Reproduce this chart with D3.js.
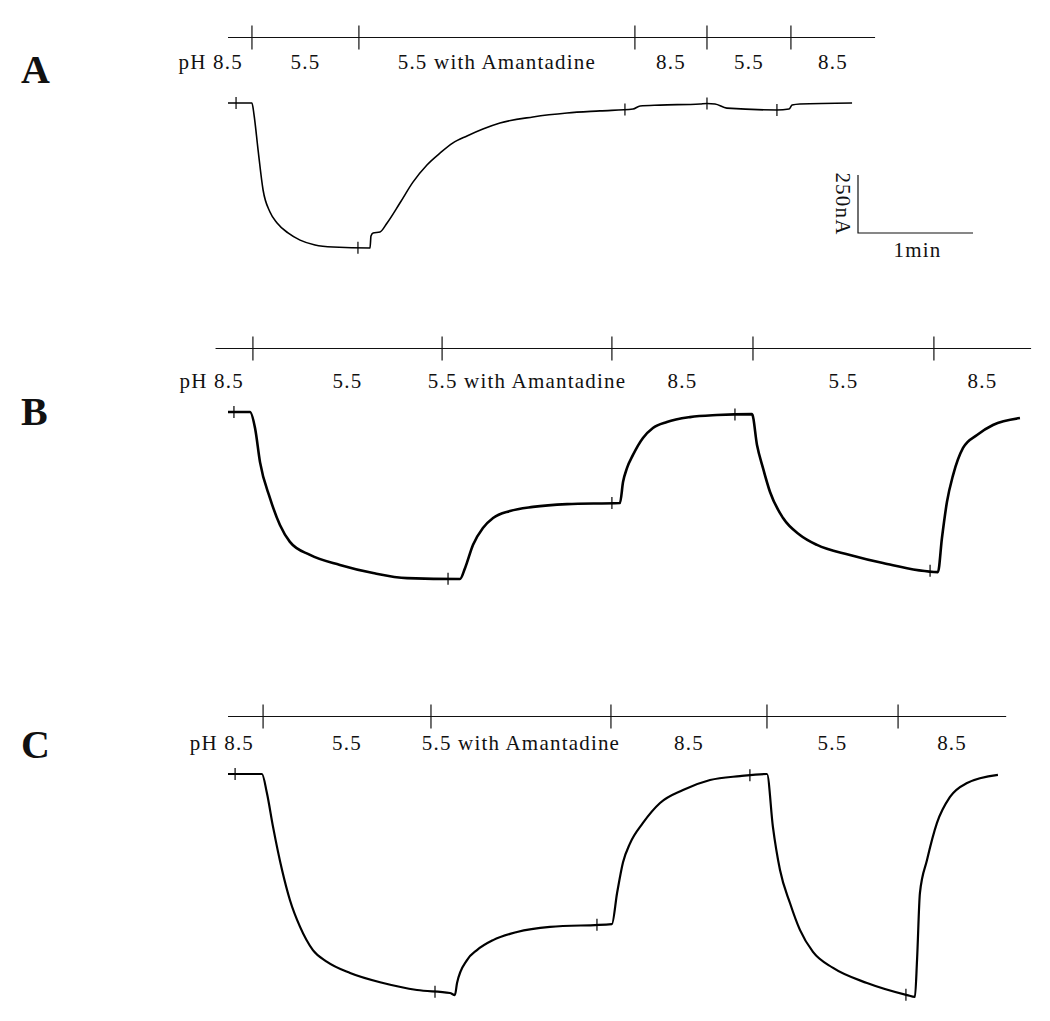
<!DOCTYPE html>
<html>
<head>
<meta charset="utf-8">
<script src="https://cdn.jsdelivr.net/npm/d3@7"></script>
<style>
	html, body { margin: 0; padding: 0; background: #fff; }
	svg { display: block; }
	.tl-text { font-family: "Liberation Serif", "Times New Roman", serif; font-size: 21px; letter-spacing: 1.2px; fill: #111; }
	.panel-letter { font-family: "Liberation Serif", "Times New Roman", serif; font-size: 40px; font-weight: bold; fill: #111; }
</style>
</head>
<body>
<svg id="chart" width="1050" height="1021"></svg>
<script>
// solution labels on the time bar (same for every panel)
var phLabels = ["pH 8.5", "5.5", "5.5 with Amantadine", "8.5", "5.5", "8.5"];

// solution switch times (s) and the extent of each time bar (s)
var switchA = [12.5, 68.3, 212.3, 249.9, 293.7];
var switchB = [13.0, 111.7, 200.3, 273.9, 368.3];
var switchC = [18.3, 105.9, 199.8, 281.2, 349.6];
var barA = [0, 337.6];
var barB = [-6.5, 419];
var barC = [0, 406];

// current traces, time (s) vs current (nA, relative to pH 8.5 baseline)
var timeA = [0, 12.5, 13.6, 15.7, 18.3, 21.9, 25.6, 31.3, 37.6, 45.4, 54.8, 74.1, 74.6, 75.7, 79.3, 83.0, 89.7, 96.5, 103.8, 110.6, 117.4, 124.7, 133.0, 141.9, 159.1, 176.9, 194.1, 211.3, 215.0, 225.4, 246.3, 249.9, 254.1, 260.3, 286.4, 292.7, 294.3, 298.4, 325.6];
var currentA = [0, 0, -52, -203, -375, -470, -517, -560, -591, -612, -621, -625, -573, -560, -556, -517, -431, -341, -267, -216, -172, -142, -112, -86, -60, -43, -34, -26, -13, -9, -4, -2, -4, -22, -30, -26, -9, -4, 0];

var timeB = [0, 11.5, 14.1, 16.7, 21.9, 27.1, 32.3, 42.8, 58.4, 75.7, 93.4, 121.0, 123.7, 127.8, 133.0, 138.3, 147.1, 159.1, 176.9, 204.5, 206.1, 208.2, 211.3, 216.5, 221.7, 229.0, 241.0, 255.1, 273.4, 276.0, 279.1, 282.8, 289.6, 298.4, 307.3, 324.5, 341.7, 370.4, 372.5, 375.1, 378.3, 383.5, 390.8, 399.1, 413.2];
var currentB = [0, 0, -69, -216, -371, -487, -560, -616, -659, -694, -716, -720, -672, -573, -500, -457, -427, -409, -397, -392, -302, -241, -185, -112, -69, -43, -22, -13, -9, -142, -241, -345, -457, -530, -573, -616, -651, -690, -543, -388, -272, -155, -99, -56, -26];

var timeC = [0, 17.7, 20.3, 23.5, 28.2, 32.3, 37.6, 44.3, 51.7, 63.7, 80.9, 98.6, 115.8, 118.4, 119.5, 124.7, 129.9, 138.3, 150.8, 168.0, 200.3, 203.0, 206.1, 209.7, 216.5, 225.4, 237.4, 251.5, 267.1, 281.2, 284.3, 288.0, 293.2, 298.4, 305.2, 315.7, 333.4, 354.3, 358.4, 359.5, 361.0, 364.7, 369.9, 376.7, 385.6, 401.7];
var currentC = [0, 0, -82, -228, -414, -543, -659, -759, -810, -858, -901, -931, -944, -953, -901, -802, -759, -716, -681, -659, -647, -513, -380, -300, -211, -125, -69, -26, -9, 0, -228, -414, -556, -672, -767, -836, -901, -953, -961, -802, -513, -371, -211, -99, -39, -4];

// small event marks on the recordings (s)
var markA = [4.2, 67.8, 207.1, 249.9, 286.4];
var markB = [3.1, 114.8, 200.3, 264.5, 366.3];
var markC = [3.7, 108.0, 192.5, 272.3, 353.7];

// scale bar
var scaleTime = 60;      // s
var scaleCurrent = 250;  // nA

var svg = d3.select("#chart");

// 1 min = 115px for all three recordings
var x = d3.scaleLinear().domain([0, 60]).range([228, 343]);

var panels = [
	{ name: "A", sw: switchA, bar: barA, t: timeA, c: currentA, marks: markA, lineY: 37.5, labelY: 69, baseY: 103, letterY: 83, width: 1.6 },
	{ name: "B", sw: switchB, bar: barB, t: timeB, c: currentB, marks: markB, lineY: 348.5, labelY: 388, baseY: 412, letterY: 425, width: 2.6 },
	{ name: "C", sw: switchC, bar: barC, t: timeC, c: currentC, marks: markC, lineY: 716.5, labelY: 750, baseY: 774, letterY: 758, width: 2.2 }
];

panels.forEach(function(p) {
	var y = d3.scaleLinear().domain([0, -scaleCurrent]).range([p.baseY, p.baseY + 58]);
	var g = svg.append("g");

	g.append("text")
		.attr("class", "panel-letter")
		.attr("x", 21)
		.attr("y", p.letterY)
		.text(p.name);

	// time bar with solution changes
	g.append("line")
		.attr("x1", x(p.bar[0])).attr("x2", x(p.bar[1]))
		.attr("y1", p.lineY).attr("y2", p.lineY)
		.attr("stroke", "#111").attr("stroke-width", 1.2);
	g.selectAll(".sw").data(p.sw).enter().append("line")
		.attr("x1", function(d) { return x(d); })
		.attr("x2", function(d) { return x(d); })
		.attr("y1", p.lineY - 12).attr("y2", p.lineY + 12)
		.attr("stroke", "#111").attr("stroke-width", 1.2);

	var edges = [p.bar[0]].concat(p.sw, [p.bar[1]]);
	phLabels.forEach(function(label, i) {
		var t = g.append("text").attr("class", "tl-text").attr("y", p.labelY).text(label);
		if (i == 0) {
			t.attr("x", x(p.sw[0]) - 9).attr("text-anchor", "end");
		}
		else {
			t.attr("x", (x(edges[i]) + x(edges[i + 1])) / 2).attr("text-anchor", "middle");
		}
	});

	// the recording
	var pts = p.t.map(function(t, i) { return [t, p.c[i]]; });
	var line = d3.line()
		.x(function(d) { return x(d[0]); })
		.y(function(d) { return y(d[1]); })
		.curve(d3.curveMonotoneX);
	g.append("path")
		.attr("d", line(pts))
		.attr("fill", "none")
		.attr("stroke", "#000")
		.attr("stroke-width", p.width)
		.attr("stroke-linejoin", "round");

	// event marks sit on the trace
	var onTrace = function(t) {
		var i = d3.bisectRight(p.t, t);
		if (i <= 0) return p.c[0];
		if (i >= p.t.length) return p.c[p.c.length - 1];
		var f = (t - p.t[i - 1]) / (p.t[i] - p.t[i - 1]);
		return p.c[i - 1] + f * (p.c[i] - p.c[i - 1]);
	};
	g.selectAll(".mark").data(p.marks).enter().append("line")
		.attr("x1", function(d) { return x(d); })
		.attr("x2", function(d) { return x(d); })
		.attr("y1", function(d) { return y(onTrace(d)) - 6; })
		.attr("y2", function(d) { return y(onTrace(d)) + 6; })
		.attr("stroke", "#000").attr("stroke-width", 1.2);

	if (p.name == "A") {
		// calibration bar
		var bx = 858, by = 233;
		var w = x(scaleTime) - x(0);
		var h = y(-scaleCurrent) - y(0);
		g.append("path")
			.attr("d", "M" + bx + "," + (by - h) + "V" + by + "H" + (bx + w))
			.attr("fill", "none").attr("stroke", "#111").attr("stroke-width", 1.2);
		g.append("text")
			.attr("class", "tl-text")
			.attr("text-anchor", "middle")
			.attr("transform", "translate(" + (bx - 22) + "," + (by - h / 2) + ") rotate(90)")
			.text(scaleCurrent + "nA");
		g.append("text")
			.attr("class", "tl-text")
			.attr("text-anchor", "middle")
			.attr("x", bx + w / 2 + 2)
			.attr("y", by + 24)
			.text("1min");
	}
});
</script>
</body>
</html>
